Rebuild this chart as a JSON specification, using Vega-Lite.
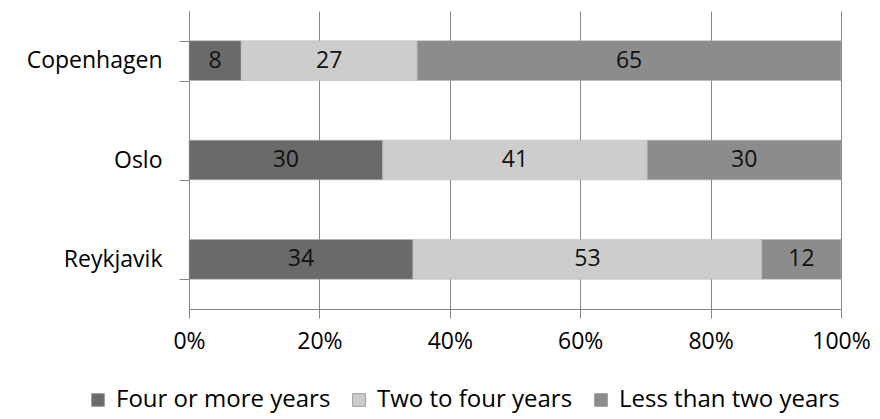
{
  "$schema": "https://vega.github.io/schema/vega-lite/v6.json",
  "width": 652,
  "height": 298,
  "autosize": {"type": "none"},
  "padding": {"left": 189, "top": 11, "right": 39, "bottom": 110},
  "background": "white",
  "config": {
    "font": "Open Sans",
    "view": {"stroke": null}
  },
  "data": {
    "values": [
      {"city": "Copenhagen", "group": "Four or more years", "order": 1, "value": 8},
      {"city": "Copenhagen", "group": "Two to four years", "order": 2, "value": 27},
      {"city": "Copenhagen", "group": "Less than two years", "order": 3, "value": 65},
      {"city": "Oslo", "group": "Four or more years", "order": 1, "value": 30},
      {"city": "Oslo", "group": "Two to four years", "order": 2, "value": 41},
      {"city": "Oslo", "group": "Less than two years", "order": 3, "value": 30},
      {"city": "Reykjavik", "group": "Four or more years", "order": 1, "value": 34},
      {"city": "Reykjavik", "group": "Two to four years", "order": 2, "value": 53},
      {"city": "Reykjavik", "group": "Less than two years", "order": 3, "value": 12}
    ]
  },
  "encoding": {
    "y": {
      "field": "city",
      "type": "nominal",
      "sort": ["Copenhagen", "Oslo", "Reykjavik"],
      "scale": {"paddingInner": 0.6, "paddingOuter": 0.3},
      "axis": {
        "title": null,
        "labelFontSize": 23,
        "labelColor": "#000000",
        "labelPadding": 17,
        "tickBand": "extent",
        "tickSize": 10,
        "tickColor": "#868686",
        "domainColor": "#868686",
        "grid": false
      }
    },
    "x": {
      "field": "value",
      "type": "quantitative",
      "stack": "normalize",
      "scale": {"domain": [0, 1]},
      "axis": {
        "title": null,
        "format": ".0%",
        "values": [0, 0.2, 0.4, 0.6, 0.8, 1],
        "labelFontSize": 23,
        "labelColor": "#000000",
        "labelPadding": 12,
        "tickSize": 9,
        "tickColor": "#868686",
        "domainColor": "#868686",
        "gridColor": "#868686",
        "gridOpacity": 1,
        "grid": true,
        "labelFlush": false
      }
    },
    "order": {"field": "order", "type": "quantitative"}
  },
  "layer": [
    {
      "mark": {"type": "bar", "stroke": "#b0b0b0", "strokeWidth": 0.5},
      "encoding": {
        "color": {
          "field": "group",
          "type": "nominal",
          "sort": ["Four or more years", "Two to four years", "Less than two years"],
          "scale": {
            "domain": ["Four or more years", "Two to four years", "Less than two years"],
            "range": ["#6a6a6a", "#cdcdcd", "#8c8c8c"]
          },
          "legend": {
            "title": null,
            "orient": "none",
            "direction": "horizontal",
            "legendX": -103,
            "legendY": 377,
            "labelFontSize": 24,
            "labelColor": "#000000",
            "labelLimit": 0,
            "symbolType": "square",
            "symbolSize": 160,
            "symbolStrokeColor": "#999999",
            "symbolStrokeWidth": 1,
            "columnPadding": 16,
            "labelOffset": 6
          }
        }
      }
    },
    {
      "mark": {"type": "text", "fontSize": 23, "color": "#111111"},
      "encoding": {
        "x": {"field": "value", "type": "quantitative", "stack": "normalize", "bandPosition": 0.5},
        "text": {"field": "value", "type": "quantitative"}
      }
    }
  ]
}
